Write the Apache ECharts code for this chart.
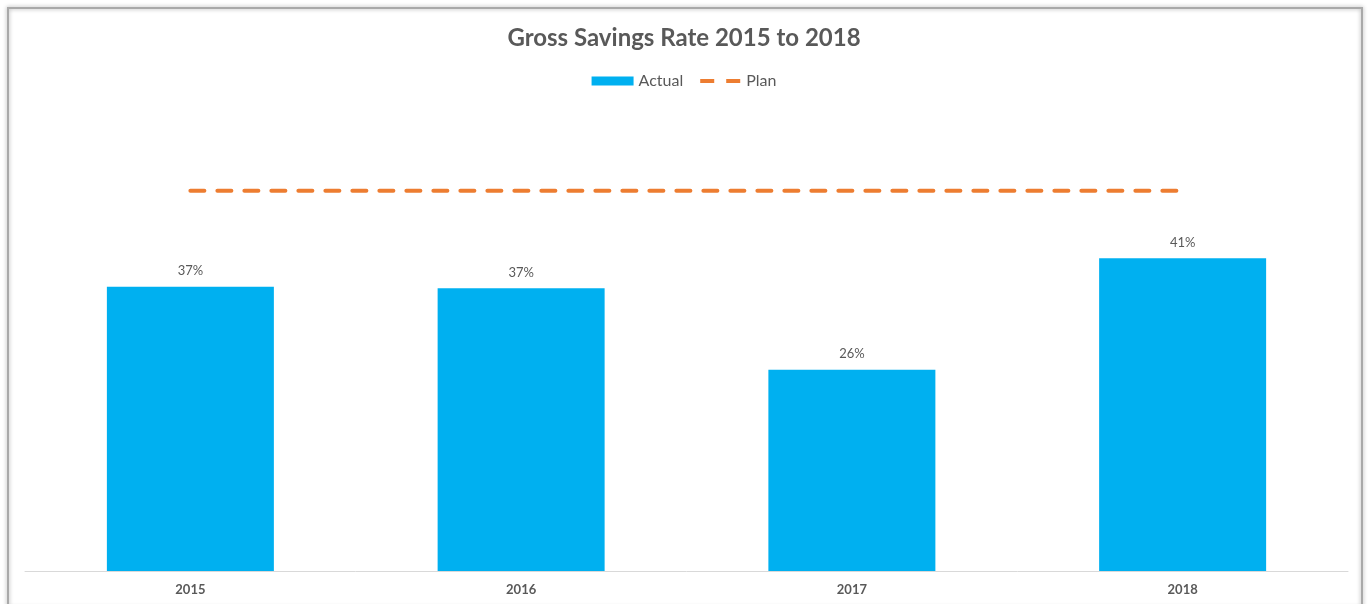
<!DOCTYPE html>
<html>
<head>
<meta charset="utf-8">
<script src="https://cdn.jsdelivr.net/npm/echarts@6/dist/echarts.min.js"></script>
<style>
html,body{margin:0;padding:0;background:#fff;}
#c{width:1368px;height:604px;}
</style>
</head>
<body>
<div id="c"></div>
<script>
const categories = ['2015', '2016', '2017', '2018'];
const actualValues = [0.370, 0.368, 0.262, 0.407];
const planValues = [0.495, 0.495, 0.495, 0.495];
const seriesNames = ['Actual', 'Plan'];
const titleText = 'Gross Savings Rate 2015 to 2018';

const chart = echarts.init(document.getElementById('c'), null, {renderer: 'canvas'});
const gray = '#595959';
const font = 'Lato, "Open Sans", sans-serif';
chart.setOption({
  animation: false,
  backgroundColor: '#fff',
  graphic: [{
    type: 'rect',
    shape: {x: 8, y: 8, width: 1354, height: 600},
    style: {fill: 'none', stroke: '#a9a9a9', lineWidth: 2, shadowBlur: 4, shadowColor: 'rgba(0,0,0,0.35)'},
    silent: true
  }],
  title: {
    text: titleText,
    left: 'center',
    top: 21,
    textStyle: {color: gray, fontSize: 24, fontWeight: 'bold', fontFamily: font}
  },
  legend: {
    data: [
      {name: seriesNames[0], icon: 'rect'},
      {name: seriesNames[1], icon: 'path://M0,0M40,9M0,2.5h14v4h-14zM26,2.5h14v4h-14z'}
    ],
    top: 68,
    left: 'center',
    itemWidth: 42,
    itemHeight: 9,
    itemGap: 17,
    textStyle: {color: gray, fontSize: 16, fontFamily: font}
  },
  grid: {left: 25, right: 20, top: 110, bottom: 33, containLabel: false},
  xAxis: {
    type: 'category',
    data: categories,
    axisLine: {show: true, lineStyle: {color: '#d9d9d9', width: 1}},
    axisTick: {show: false},
    axisLabel: {color: gray, fontSize: 13, fontWeight: 'bold', fontFamily: font, margin: 12}
  },
  yAxis: {
    type: 'value',
    min: 0,
    max: 0.6,
    show: false,
    splitLine: {show: false}
  },
  series: [
    {
      name: seriesNames[0],
      type: 'bar',
      data: actualValues,
      barWidth: 167,
      itemStyle: {color: '#00B0F0'},
      label: {
        show: true,
        position: 'top',
        distance: 9,
        color: gray,
        fontSize: 13,
        fontFamily: font,
        formatter: p => Math.round(p.value * 100) + '%'
      }
    },
    {
      name: seriesNames[1],
      type: 'line',
      data: planValues,
      symbol: 'none',
      lineStyle: {color: '#ED7D31', width: 4, type: [14, 13], cap: 'round'},
      itemStyle: {color: '#ED7D31'}
    }
  ]
});
</script>
</body>
</html>
